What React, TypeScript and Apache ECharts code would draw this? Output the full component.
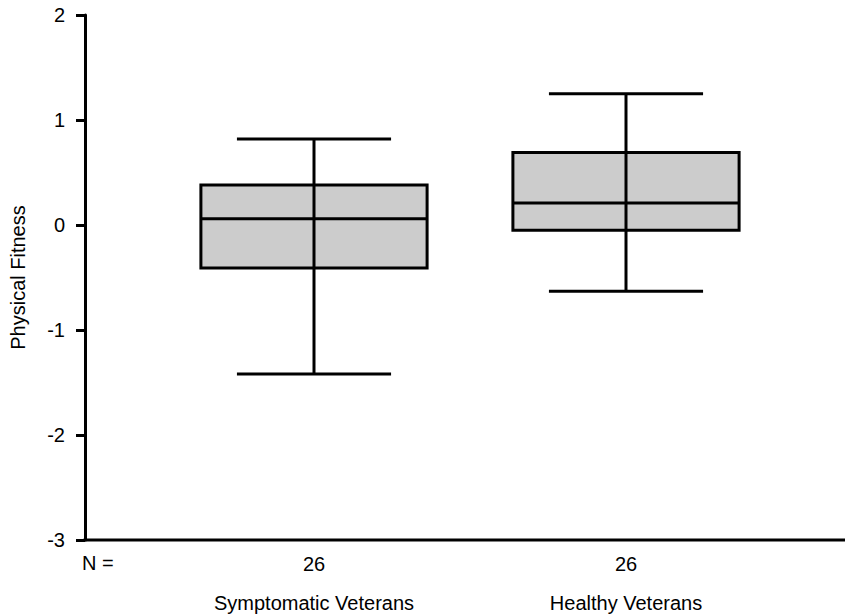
import React, { useEffect, useRef } from "react";
import * as echarts from "echarts";

const categories = ["Symptomatic Veterans", "Healthy Veterans"];
const counts = [26, 26];
// [min whisker, Q1, median, Q3, max whisker]
const symptomatic = [-1.42, -0.41, 0.06, 0.38, 0.82];
const healthy = [-0.63, -0.05, 0.21, 0.69, 1.25];
const yTicks = [-3, -2, -1, 0, 1, 2];

const FONT = "'Liberation Sans', Arial, Helvetica, sans-serif";
const FS = 20;

export default function App() {
  const ref = useRef<HTMLDivElement>(null);
  useEffect(() => {
    if (!ref.current) return;
    const chart = echarts.init(ref.current, null, { renderer: "svg" });
    const boxes = [symptomatic, healthy];
    const data = boxes.map((b, i) => [i, ...b]);
    chart.setOption({
      animation: false,
      grid: { left: 158, right: 63, top: 15, bottom: 74 },
      xAxis: {
        type: "category",
        data: categories,
        axisLine: { show: false },
        axisTick: { show: false },
        splitLine: { show: false },
        axisLabel: {
          interval: 0,
          margin: 4,
          color: "#000",
          fontFamily: FONT,
          formatter: (v: string, idx: number) => `{n|${counts[idx]}}\n{c|${v}}`,
          rich: {
            n: { fontSize: FS, lineHeight: 39, fontFamily: FONT, color: "#000" },
            c: { fontSize: FS, lineHeight: 39, fontFamily: FONT, color: "#000" },
          },
        },
      },
      yAxis: {
        type: "value",
        min: yTicks[0],
        max: yTicks[yTicks.length - 1],
        interval: 1,
        offset: 73,
        name: "Physical Fitness",
        nameLocation: "middle",
        nameRotate: 90,
        nameGap: 57,
        nameTextStyle: { fontSize: FS, fontFamily: FONT, color: "#000" },
        axisLine: { show: true, lineStyle: { color: "#000", width: 3 } },
        axisTick: { show: true, length: 9, lineStyle: { color: "#000", width: 3 } },
        splitLine: { show: false },
        axisLabel: { fontSize: FS, fontFamily: FONT, color: "#000", margin: 20 },
      },
      graphic: [
        {
          type: "line",
          shape: { x1: 83.5, y1: 540, x2: 845, y2: 540 },
          style: { stroke: "#000", lineWidth: 3 },
          z: 10,
        },
        {
          type: "text",
          left: 82,
          top: 553,
          style: { text: "N =", fontSize: FS, fontFamily: FONT, fill: "#000" },
        },
      ],
      series: [
        {
          type: "custom",
          data,
          encode: { x: 0, y: [1, 2, 3, 4, 5] },
          renderItem: (params: any, api: any) => {
            const idx = api.value(0);
            const vals = [1, 2, 3, 4, 5].map((d) => api.value(d));
            const band = api.size([1, 0])[0];
            const pts = vals.map((v) => api.coord([idx, v]));
            const cx = pts[0][0];
            const yMin = pts[0][1];
            const yQ1 = pts[1][1];
            const yMed = pts[2][1];
            const yQ3 = pts[3][1];
            const yMax = pts[4][1];
            const hw = band * 0.3625;
            const cw = band * 0.247;
            const ls = { stroke: "#000", lineWidth: 3 };
            return {
              type: "group",
              children: [
                {
                  type: "rect",
                  shape: { x: cx - hw, y: yQ3, width: hw * 2, height: yQ1 - yQ3 },
                  style: { fill: "#cccccc", stroke: "#000", lineWidth: 3 },
                },
                { type: "line", shape: { x1: cx, y1: yMin, x2: cx, y2: yMax }, style: ls },
                { type: "line", shape: { x1: cx - hw, y1: yMed, x2: cx + hw, y2: yMed }, style: ls },
                { type: "line", shape: { x1: cx - cw, y1: yMax, x2: cx + cw, y2: yMax }, style: ls },
                { type: "line", shape: { x1: cx - cw, y1: yMin, x2: cx + cw, y2: yMin }, style: ls },
              ],
            };
          },
        },
      ],
    });
    return () => chart.dispose();
  }, []);
  return (
    <div
      ref={ref}
      style={{ position: "fixed", left: 0, top: 0, width: 845, height: 614, background: "#fff" }}
    />
  );
}
